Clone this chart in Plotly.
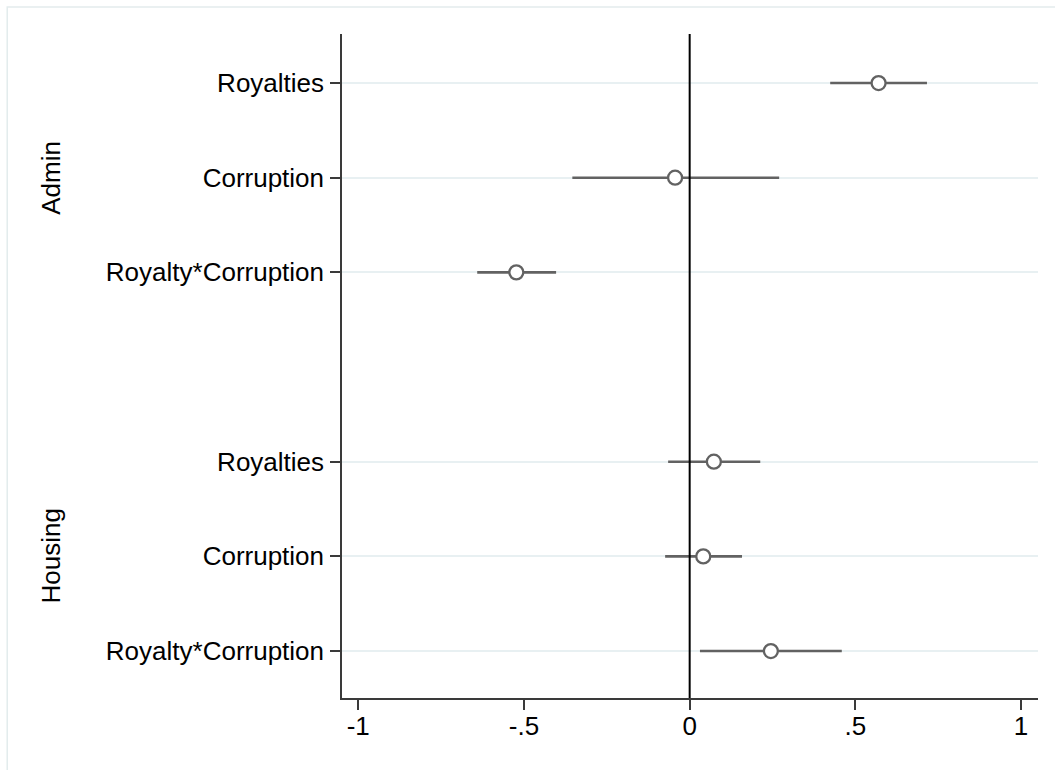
import plotly.graph_objects as go

# Coefficient estimates with 95% confidence intervals, by outcome
groups = ["Admin", "Admin", "Admin", "Housing", "Housing", "Housing"]
terms = ["Royalties", "Corruption", "Royalty*Corruption",
         "Royalties", "Corruption", "Royalty*Corruption"]
estimate = [0.570, -0.044, -0.523, 0.073, 0.041, 0.245]
ci_low = [0.424, -0.354, -0.641, -0.065, -0.074, 0.031]
ci_high = [0.716, 0.270, -0.403, 0.213, 0.158, 0.459]

# Row positions: one empty row separates the two outcome groups
row_pos = [1, 2, 3, 5, 6, 7]
group_names = ["Admin", "Housing"]
group_centre = [2, 6]

x_ticks = [-1, -0.5, 0, 0.5, 1]
x_tick_text = ["-1", "-.5", "0", ".5", "1"]

FONT = "Liberation Sans, Arial, Helvetica, sans-serif"
CI_COLOR = "#626262"

fig = go.Figure()

fig.add_trace(go.Scatter(
    x=estimate,
    y=row_pos,
    mode="markers",
    marker=dict(symbol="circle", size=14, color="white",
                line=dict(color=CI_COLOR, width=2.3)),
    error_x=dict(type="data", symmetric=False,
                 array=[h - e for h, e in zip(ci_high, estimate)],
                 arrayminus=[e - l for e, l in zip(estimate, ci_low)],
                 color=CI_COLOR, thickness=2.6, width=0),
    customdata=list(zip(groups, terms)),
    hovertemplate="%{customdata[0]}: %{customdata[1]}<br>%{x:.3f}<extra></extra>",
    showlegend=False,
))

# Reference line at zero
fig.add_vline(x=0, line=dict(color="black", width=2))

# Outcome group labels
for name, pos in zip(group_names, group_centre):
    fig.add_annotation(
        text=name, x=-0.418, xref="paper", y=pos, yref="y",
        textangle=-90, showarrow=False, xanchor="center", yanchor="middle",
        font=dict(family=FONT, size=26, color="black"),
    )

# Light frame around the graph region
fig.add_shape(type="rect", xref="paper", yref="paper",
              x0=-0.481, x1=1.2, y0=-0.3, y1=1.0407,
              line=dict(color="#e3eced", width=1.5), layer="below")

fig.update_layout(
    width=1055, height=770,
    margin=dict(l=342, r=17, t=34, b=72),
    paper_bgcolor="white", plot_bgcolor="white",
    font=dict(family=FONT, size=26, color="black"),
    xaxis=dict(
        range=[-1.049, 1.051], tickmode="array",
        tickvals=x_ticks, ticktext=x_tick_text,
        showgrid=False, zeroline=False,
        showline=True, linecolor="#3a3a3a", linewidth=1.5,
        ticks="outside", ticklen=10, tickwidth=1.5, tickcolor="#3a3a3a",
        ticklabelstandoff=-6,
        tickfont=dict(family=FONT, size=26, color="black"),
    ),
    yaxis=dict(
        range=[7.496, 0.482], tickmode="array",
        tickvals=row_pos, ticktext=terms,
        showgrid=True, gridcolor="#e8f0f2", gridwidth=1.5,
        zeroline=False,
        showline=True, linecolor="#3a3a3a", linewidth=1.5,
        ticks="outside", ticklen=10, tickwidth=1.5, tickcolor="#3a3a3a",
        ticklabelstandoff=1,
        tickfont=dict(family=FONT, size=26, color="black"),
    ),
)

fig.write_html("out.html")
